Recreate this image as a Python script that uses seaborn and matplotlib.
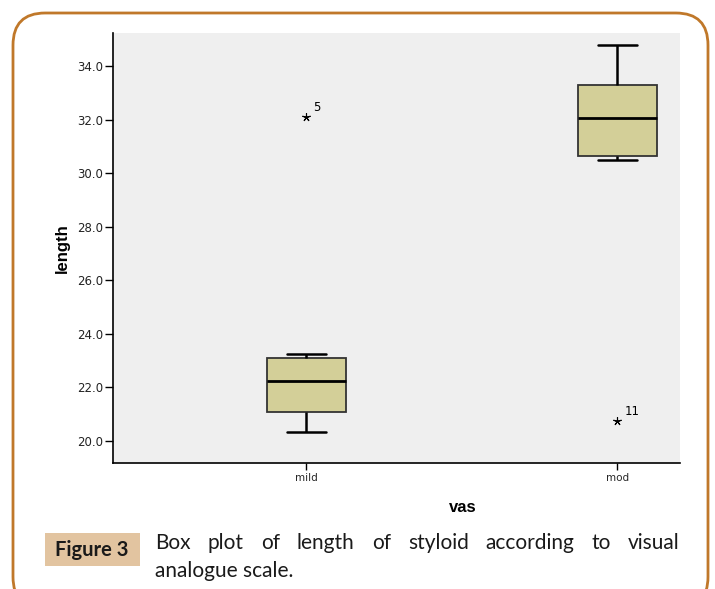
import numpy as np
import pandas as pd
import matplotlib
matplotlib.use("Agg")
import matplotlib.pyplot as plt
from matplotlib.patches import FancyBboxPatch, Rectangle
import seaborn as sns

# ---- data ----
categories = ["mild", "mod"]
mild_length = [20.35, 20.9, 21.1, 21.8, 22.25, 22.8, 23.1, 23.25, 32.1]
mild_case = [1, 2, 3, 4, 6, 7, 8, 9, 5]
mod_length = [20.75, 30.5, 30.65, 31.5, 32.05, 32.7, 33.3, 34.0, 34.8]
mod_case = [11, 10, 12, 13, 14, 15, 16, 17, 18]
y_ticks = [20.0, 22.0, 24.0, 26.0, 28.0, 30.0, 32.0, 34.0]

df = pd.DataFrame({
    "vas": ["mild"] * len(mild_length) + ["mod"] * len(mod_length),
    "length": mild_length + mod_length,
    "case": mild_case + mod_case,
})

sns.set_theme(style="white")
plt.rcParams["font.family"] = ["DejaVu Sans"]

W, H = 715, 589
fig = plt.figure(figsize=(W / 100, H / 100), dpi=100)
ax = fig.add_axes([113 / W, 1 - 463 / H, 567 / W, 430 / H])
ax.set_facecolor("#efefef")

sns.boxplot(
    data=df, x="vas", y="length", order=categories, ax=ax,
    width=0.254, color="#d3cf98", linecolor="black", linewidth=1.3,
    saturation=1, whis=1.5,
    boxprops=dict(edgecolor="#333333"),
    medianprops=dict(linewidth=2.0, color="black"),
    capprops=dict(linewidth=1.8),
    whiskerprops=dict(linewidth=1.8),
    flierprops=dict(marker=(5, 2, 0), markersize=6, markeredgecolor="black",
                    markerfacecolor="black", markeredgewidth=0.8),
)

# label extreme cases with their case numbers
for i, cat in enumerate(categories):
    sub = df[df["vas"] == cat]
    q1, q3 = np.percentile(sub["length"], [25, 75])
    iqr = q3 - q1
    out = sub[(sub["length"] > q3 + 1.5 * iqr) | (sub["length"] < q1 - 1.5 * iqr)]
    for _, r in out.iterrows():
        ax.annotate(str(r["case"]), (i, r["length"]), xytext=(5, 4),
                    textcoords="offset points", fontsize=8.5, color="black")

ax.set_xlim(-0.622, 1.201)
ax.set_ylim(19.18, 35.23)
ax.set_yticks(y_ticks)
ax.set_yticklabels([f"{v:.1f}" for v in y_ticks], fontsize=8.5, color="#222222")
ax.tick_params(axis="y", direction="out", length=6, width=1, color="black", pad=1, left=True)
ax.tick_params(axis="x", direction="out", length=5, width=1, color="black", pad=2,
               labelsize=7.5, bottom=True)
for s in ["top", "right"]:
    ax.spines[s].set_visible(False)
for s in ["left", "bottom"]:
    ax.spines[s].set_color("black")
    ax.spines[s].set_linewidth(1.2)
ax.set_ylabel("length", fontsize=12, fontweight="bold", family="Liberation Sans",
              color="black")
ax.yaxis.set_label_coords((70 - 113) / 567, 0.5)
ax.set_xlabel("vas", fontsize=12, fontweight="bold", family="Liberation Sans",
              color="black")
ax.xaxis.set_label_coords((463 - 113) / 567, -(500 - 463) / 430)

# frame
frame = FancyBboxPatch((13 / W, -20 / H), 695 / W, (H - 13 + 20) / H,
                       boxstyle="round,pad=0,rounding_size=0.045",
                       transform=fig.transFigure, facecolor="none",
                       edgecolor="#c0782a", linewidth=2, clip_on=False,
                       mutation_aspect=W / H)
fig.patches.append(frame)

# caption
fig.patches.append(Rectangle((45 / W, 1 - 566 / H), 95 / W, 33 / H,
                             transform=fig.transFigure, facecolor="#e2c4a0",
                             edgecolor="none"))
fig.text(92 / W, 1 - 550 / H, "Figure 3", fontsize=14.5, fontweight="bold",
         family="Lato", ha="center", va="center", color="#1a1a1a")
words = "Box plot of length of styloid according to visual".split()
x0, x1 = 155, 680
renderer = fig.canvas.get_renderer()
texts = []
for w_ in words:
    t = fig.text(0, 1 - 543 / H, w_, fontsize=15, family="Lato",
                 ha="left", va="center", color="#1a1a1a")
    texts.append(t)
widths = [t.get_window_extent(renderer).width for t in texts]
gap = (x1 - x0 - sum(widths)) / (len(words) - 1)
xx = x0
for t, wd in zip(texts, widths):
    t.set_x(xx / W)
    xx += wd + gap
fig.text(x0 / W, 1 - 571 / H, "analogue scale.", fontsize=15, family="Lato",
         ha="left", va="center", color="#1a1a1a")

fig.savefig("out.png", dpi=100)
